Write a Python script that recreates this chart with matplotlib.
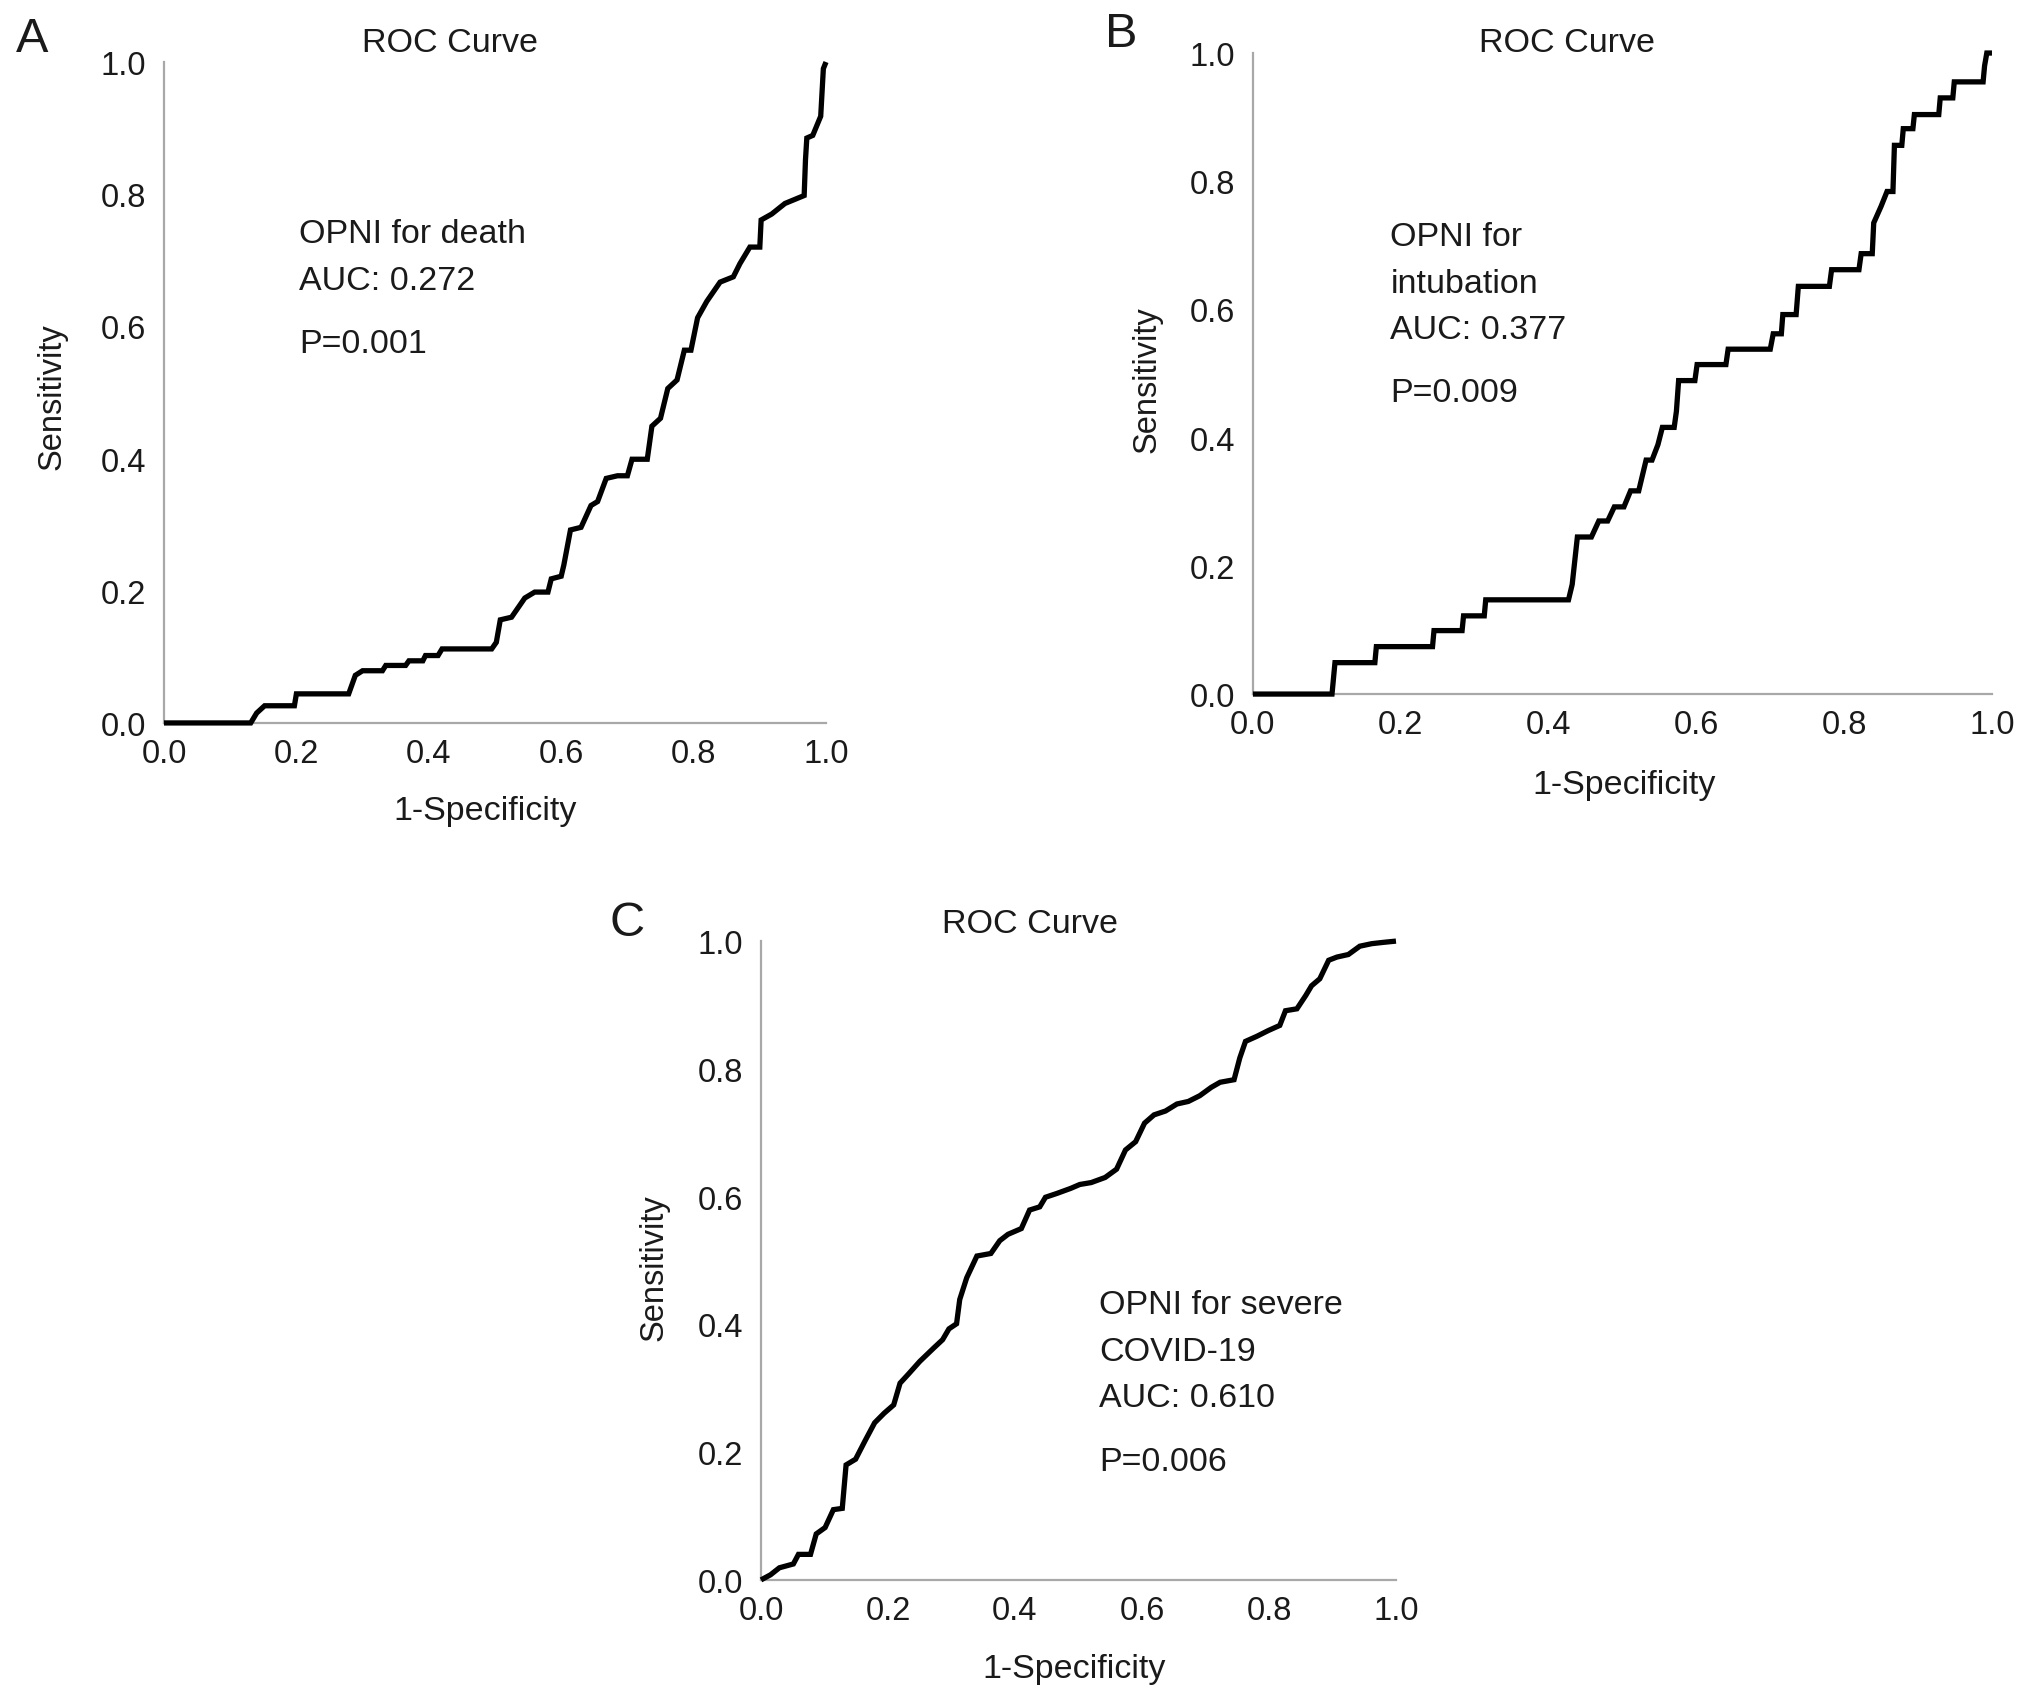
import matplotlib
matplotlib.use("Agg")
import matplotlib.pyplot as plt

plt.rcParams["font.family"] = ["Liberation Sans", "DejaVu Sans"]

# =========================
# Dados
# =========================
fpr_death = [0.0, 0.131, 0.140, 0.152, 0.197, 0.200, 0.279, 0.289, 0.300, 0.330, 0.335,
             0.365, 0.370, 0.391, 0.395, 0.414, 0.420, 0.495, 0.502, 0.508, 0.525,
             0.545, 0.560, 0.580, 0.585, 0.600, 0.604, 0.614, 0.630, 0.645, 0.655,
             0.668, 0.685, 0.700, 0.707, 0.730, 0.737, 0.750, 0.761, 0.775, 0.786,
             0.796, 0.806, 0.820, 0.840, 0.860, 0.870, 0.885, 0.900, 0.902, 0.918,
             0.938, 0.967, 0.969, 0.971, 0.980, 0.992, 0.996, 1.0]
tpr_death = [0.0, 0.0, 0.015, 0.026, 0.026, 0.044, 0.044, 0.072, 0.079, 0.079, 0.087,
             0.087, 0.094, 0.094, 0.102, 0.102, 0.112, 0.112, 0.122, 0.156, 0.160,
             0.189, 0.198, 0.198, 0.218, 0.222, 0.239, 0.292, 0.296, 0.329, 0.335,
             0.370, 0.374, 0.374, 0.399, 0.399, 0.449, 0.461, 0.506, 0.519, 0.564,
             0.564, 0.613, 0.638, 0.667, 0.675, 0.695, 0.720, 0.720, 0.761, 0.770,
             0.786, 0.798, 0.852, 0.885, 0.889, 0.918, 0.990, 1.0]

fpr_intub = [0.0, 0.107, 0.111, 0.165, 0.167, 0.243, 0.245, 0.283, 0.285, 0.313, 0.315,
             0.427, 0.432, 0.439, 0.458, 0.468, 0.480, 0.489, 0.502, 0.511, 0.522,
             0.532, 0.540, 0.548, 0.554, 0.570, 0.573, 0.576, 0.598, 0.601, 0.640,
             0.643, 0.700, 0.704, 0.715, 0.717, 0.735, 0.738, 0.780, 0.783, 0.820,
             0.823, 0.838, 0.840, 0.850, 0.858, 0.866, 0.868, 0.878, 0.880, 0.893,
             0.895, 0.928, 0.930, 0.947, 0.949, 0.988, 0.990, 0.993, 1.0]
tpr_intub = [0.0, 0.0, 0.049, 0.049, 0.074, 0.074, 0.099, 0.099, 0.122, 0.122, 0.147,
             0.147, 0.171, 0.245, 0.245, 0.270, 0.270, 0.292, 0.292, 0.317, 0.317,
             0.365, 0.365, 0.389, 0.416, 0.416, 0.441, 0.489, 0.489, 0.514, 0.514,
             0.538, 0.538, 0.562, 0.562, 0.592, 0.592, 0.636, 0.636, 0.662, 0.662,
             0.687, 0.687, 0.735, 0.761, 0.784, 0.784, 0.856, 0.856, 0.882, 0.882,
             0.904, 0.904, 0.930, 0.930, 0.955, 0.955, 0.980, 1.0, 1.0]

fpr_severe = [0.0, 0.015, 0.029, 0.051, 0.059, 0.078, 0.087, 0.101, 0.114, 0.128, 0.134,
              0.149, 0.164, 0.179, 0.194, 0.209, 0.219, 0.232, 0.250, 0.272, 0.286,
              0.296, 0.308, 0.313, 0.324, 0.340, 0.362, 0.376, 0.389, 0.410, 0.423,
              0.439, 0.448, 0.466, 0.488, 0.502, 0.520, 0.542, 0.560, 0.574, 0.590,
              0.604, 0.619, 0.637, 0.655, 0.673, 0.691, 0.709, 0.723, 0.745, 0.754,
              0.763, 0.781, 0.799, 0.817, 0.826, 0.844, 0.858, 0.867, 0.880, 0.894,
              0.907, 0.925, 0.943, 0.962, 0.980, 1.0]
tpr_severe = [0.0, 0.008, 0.019, 0.025, 0.040, 0.040, 0.072, 0.082, 0.110, 0.112, 0.180,
              0.189, 0.218, 0.246, 0.261, 0.274, 0.308, 0.322, 0.342, 0.363, 0.376,
              0.393, 0.401, 0.439, 0.473, 0.507, 0.511, 0.531, 0.541, 0.550, 0.579,
              0.584, 0.599, 0.605, 0.613, 0.619, 0.622, 0.630, 0.643, 0.673, 0.686,
              0.715, 0.728, 0.734, 0.745, 0.749, 0.758, 0.771, 0.779, 0.783, 0.817,
              0.843, 0.851, 0.860, 0.868, 0.891, 0.894, 0.915, 0.930, 0.941, 0.970,
              0.975, 0.979, 0.992, 0.996, 0.998, 1.0]

ticks = [0.0, 0.2, 0.4, 0.6, 0.8, 1.0]
tick_labels = ["0.0", "0.2", "0.4", "0.6", "0.8", "1.0"]

notes_death = ["OPNI for death", "AUC: 0.272", "P=0.001"]
notes_intub = ["OPNI for", "intubation", "AUC: 0.377", "P=0.009"]
notes_severe = ["OPNI for severe", "COVID-19", "AUC: 0.610", "P=0.006"]


# =========================
# Painel ROC no estilo SPSS
# =========================
def roc_panel(fig, rect, fpr, tpr, notes, note_x, note_ys):
    ax = fig.add_axes(rect)
    # curva por cima dos eixos (zorder > spines)
    ax.plot(fpr, tpr, color="black", lw=3.8, clip_on=False, zorder=3,
            solid_joinstyle="miter", solid_capstyle="butt")
    ax.set_xlim(0, 1)
    ax.set_ylim(0, 1)
    ax.set_xticks(ticks)
    ax.set_xticklabels(tick_labels)
    ax.set_yticks(ticks)
    ax.set_yticklabels(tick_labels)
    ax.tick_params(length=0, labelsize=23.5, colors="#1a1a1a")
    ax.tick_params(axis="y", pad=13)
    ax.tick_params(axis="x", pad=11)
    for s in ("top", "right"):
        ax.spines[s].set_visible(False)
    for s in ("left", "bottom"):
        ax.spines[s].set_color("#a8a8a8")
        ax.spines[s].set_linewidth(1.6)
    for txt, y in zip(notes, note_ys):
        ax.text(note_x, y, txt, fontsize=24.5, ha="left", va="center", color="#1a1a1a")
    return ax


fig = plt.figure(figsize=(20.32, 16.99), dpi=100)

roc_panel(fig, [0.0807, 0.5739, 0.3258, 0.389], fpr_death, tpr_death,
          notes_death, 0.204, [0.740, 0.669, 0.574])
roc_panel(fig, [0.6166, 0.5909, 0.3637, 0.3773], fpr_intub, tpr_intub,
          notes_intub, 0.186, [0.714, 0.641, 0.568, 0.471])
roc_panel(fig, [0.3745, 0.0695, 0.3125, 0.376], fpr_severe, tpr_severe,
          notes_severe, 0.533, [0.431, 0.358, 0.285, 0.186])

# letras, títulos e rótulos dos eixos
kw = dict(ha="center", va="center", color="#1a1a1a")
for letter, (lx, ly) in zip("ABC", [(0.016, 0.977), (0.5517, 0.9797), (0.3087, 0.4564)]):
    fig.text(lx, ly, letter, fontsize=35, **kw)
for tx, ty in [(0.2213, 0.9743), (0.7711, 0.9743), (0.507, 0.4556)]:
    fig.text(tx, ty, "ROC Curve", fontsize=24.5, **kw)
for sx, sy in [(0.0255, 0.7666), (0.5645, 0.7765), (0.3221, 0.254)]:
    fig.text(sx, sy, "Sensitivity", fontsize=23.5, rotation=90, **kw)
for px, py in [(0.2385, 0.5222), (0.7992, 0.5375), (0.5287, 0.0172)]:
    fig.text(px, py, "1-Specificity", fontsize=24.5, **kw)

fig.savefig("out.png", dpi=100, facecolor="white")
